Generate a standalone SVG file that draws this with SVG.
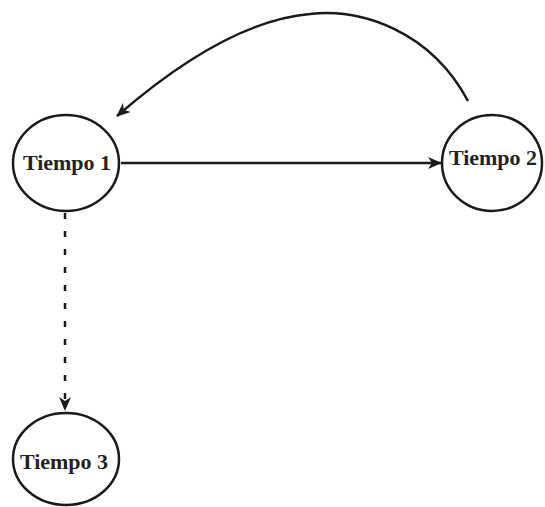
<svg xmlns="http://www.w3.org/2000/svg" width="545" height="507" viewBox="0 0 545 507">
  <style>
    .node ellipse { fill: #fff; stroke: #1a1a1a; stroke-width: 2.5; }
    .node text { font-family: "Liberation Serif", "Times New Roman", serif; font-weight: bold; font-size: 22px; fill: #222; text-anchor: middle; }
    .edge { fill: none; stroke: #1a1a1a; stroke-width: 2.5; }
    .dashed { stroke-dasharray: 6 12; }
  </style>
  <defs>
    <marker id="arrow" viewBox="0 0 14 12" refX="13" refY="6" markerWidth="14" markerHeight="12" markerUnits="userSpaceOnUse" orient="auto">
      <path d="M0,0 L14,6 L0,12 L4,6 Z" fill="#1a1a1a"/>
    </marker>
  </defs>
  <rect width="545" height="507" fill="#fff"/>
  <g id="connectors">
    <path class="edge" d="M121,163 L441,163" marker-end="url(#arrow)"/>
    <path class="edge" d="M468,101 C430,30 360,8 310,14 C240,20 170,70 117,116" marker-end="url(#arrow)"/>
    <path class="edge dashed" d="M65,213 L65,410" marker-end="url(#arrow)"/>
  </g>
  <g id="tiempo1" class="node">
    <ellipse cx="66" cy="163" rx="53" ry="48"/>
    <text x="67" y="170">Tiempo 1</text>
  </g>
  <g id="tiempo2" class="node">
    <ellipse cx="492" cy="163" rx="50" ry="48"/>
    <text x="493" y="165">Tiempo 2</text>
  </g>
  <g id="tiempo3" class="node">
    <ellipse cx="66" cy="459" rx="53" ry="46"/>
    <text x="64" y="469">Tiempo 3</text>
  </g>
</svg>
